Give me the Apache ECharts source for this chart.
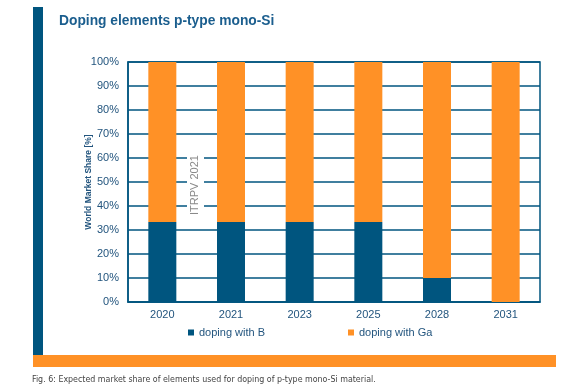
<!DOCTYPE html>
<html><head><meta charset="utf-8">
<script src="https://cdn.jsdelivr.net/npm/echarts@6/dist/echarts.min.js"></script>
<style>html,body{margin:0;padding:0;background:#fff}#c{width:567px;height:390px}</style>
</head><body><div id="c"></div>
<script>
var categories = ['2020','2021','2023','2025','2028','2031'];
var dopingB  = [33.3, 33.3, 33.3, 33.3, 10, 0];
var dopingGa = [66.7, 66.7, 66.7, 66.7, 90, 100];
var yTicks = [0,10,20,30,40,50,60,70,80,90,100];

var BLUE = '#00557f', ORANGE = '#ff9126', TXT = '#23557e';
var chart = echarts.init(document.getElementById('c'), null, {renderer:'canvas'});
chart.setOption({
  animation:false,
  title:{text:'Doping elements p-type mono-Si', left:54, top:9,
    textStyle:{fontFamily:'Liberation Sans, Arial', fontSize:13.8, fontWeight:'bold', color:'#1b5e8e'}},
  grid:{left:128, right:27, top:62, bottom:88, show:true, borderColor:BLUE, borderWidth:1.5},
  legend:[
    {data:['doping with B'], left:183, top:322, icon:'rect', itemWidth:6, itemHeight:6, itemGap:5,
     textStyle:{fontFamily:'Liberation Sans, Arial', fontSize:11, color:TXT}},
    {data:['doping with Ga'], left:343, top:322, icon:'rect', itemWidth:6, itemHeight:6, itemGap:5,
     textStyle:{fontFamily:'Liberation Sans, Arial', fontSize:11, color:TXT}}
  ],
  xAxis:{type:'category', data:categories,
    axisLine:{show:true, lineStyle:{color:BLUE, width:1.5}}, axisTick:{show:false},
    axisLabel:{fontFamily:'Liberation Sans, Arial', fontSize:11, color:TXT, margin:7}},
  yAxis:{type:'value', min:0, max:100, interval:10,
    name:'World Market Share [%]', nameLocation:'middle', nameGap:39, nameMoveOverlap:false,
    nameTextStyle:{fontFamily:'Liberation Sans, Arial', fontSize:8.5, fontWeight:'bold', color:TXT, verticalAlign:'middle'},
    axisLine:{show:true, lineStyle:{color:BLUE, width:1.5}}, axisTick:{show:false},
    axisLabel:{fontFamily:'Liberation Sans, Arial', fontSize:11, color:TXT, margin:9,
      formatter:function(v){return yTicks.indexOf(v)>=0 ? v+'%' : '';}},
    splitLine:{show:true, lineStyle:{color:BLUE, width:1.5}}},
  series:[
    {name:'doping with B', type:'bar', stack:'s', data:dopingB, barWidth:28, itemStyle:{color:BLUE}},
    {name:'doping with Ga', type:'bar', stack:'s', data:dopingGa, barWidth:28, itemStyle:{color:ORANGE}}
  ],
  graphic:[
    {type:'rect', z:100, shape:{x:33, y:7, width:10, height:348}, style:{fill:'#00557f'}},
    {type:'rect', z:100, shape:{x:33, y:355, width:523, height:12}, style:{fill:'#ff9126'}},
    {type:'rect', z:100, shape:{x:187, y:155, width:17, height:61}, style:{fill:'#fff'}},
    {type:'text', z:101, x:195, y:185, rotation:Math.PI/2, style:{text:'ITRPV 2021', fill:'#8a8a8a',
      font:'11px Liberation Sans, Arial', textAlign:'center', textVerticalAlign:'middle'}},
    {type:'text', z:100, x:32, y:380, style:{text:'Fig. 6: Expected market share of elements used for doping of p-type mono-Si material.',
      fill:'#444', font:'8.8px "DejaVu Sans Condensed", "Liberation Sans Narrow", Arial', textVerticalAlign:'middle'}}
  ]
});
</script></body></html>
